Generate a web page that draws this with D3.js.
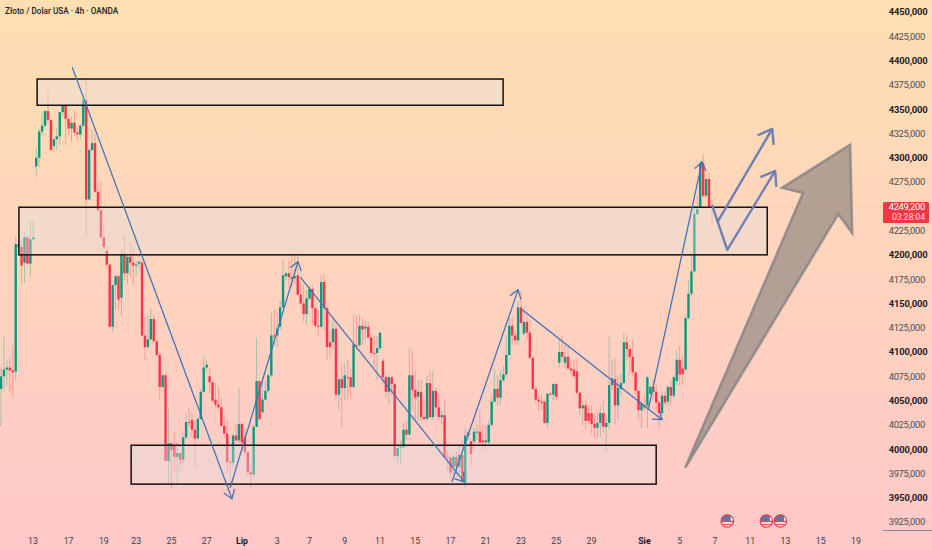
<!DOCTYPE html>
<html><head><meta charset="utf-8">
<script src="https://cdn.jsdelivr.net/npm/d3@7/dist/d3.min.js"></script>
<style>html,body{margin:0;padding:0;background:#ffc8c8;overflow:hidden}svg{display:block;font-family:Roboto,"Liberation Sans",sans-serif}</style>
</head><body><div id="chart"></div>
<script>
const opens=[4062,4075,4082,4084,4081,4080,4211,4208,4192,4218,
4191,4216,4291,4300,4327,4333,4348,4339,4312,4319,
4322,4347,4354,4340,4330,4336,4326,4324,4333,4359,
4257,4308,4315,4265,4246,4218,4204,4190,4126,4169,
4178,4156,4201,4181,4198,4192,4189,4191,4192,4117,
4105,4113,4134,4111,4097,4064,4076,3988,4006,4004,
3992,3996,3989,4012,4028,4030,4020,4011,4031,4059,
4084,4075,4069,4051,4046,4043,4024,4016,3987,3986,
4014,4009,4026,4012,3997,3976,3974,4023,4070,4038,
4051,4060,4076,4117,4117,4126,4146,4178,4181,4177,
4176,4179,4159,4150,4139,4155,4165,4145,4127,4126,
4172,4145,4110,4110,4124,4056,4072,4063,4074,4074,
4064,4107,4107,4127,4124,4126,4115,4099,4099,4104,
4091,4074,4059,4074,4067,3993,4001,4002,4020,4015,
4076,4061,4054,4059,4033,4031,4068,4033,4060,4043,
4033,4035,3992,3991,3982,3992,3982,3994,3965,4014,
4008,4008,4017,4018,4009,4007,4007,4025,4049,4062,
4053,4071,4077,4097,4127,4117,4112,4146,4119,4131,
4120,4094,4062,4051,4049,4049,4027,4057,4056,4067,
4089,4100,4089,4095,4083,4082,4080,4058,4042,4045,
4037,4037,4026,4022,4027,4037,4023,4027,4066,4072,
4045,4062,4068,4110,4103,4095,4079,4060,4040,4045,
4045,4057,4064,4059,4048,4037,4055,4049,4064,4055,
4070,4092,4083,4082,4135,4160,4183,4242,4249,4294,
4261,4278,4250];
const closes=[4075,4082,4084,4081,4079,4211,4208,4189,4218,4191,
4216,4218,4300,4327,4333,4348,4339,4308,4319,4322,
4347,4354,4340,4330,4336,4326,4324,4333,4359,4257,
4308,4315,4265,4246,4218,4208,4190,4126,4169,4178,
4154,4201,4181,4198,4192,4189,4190,4193,4117,4105,
4113,4134,4111,4097,4064,4076,3988,4006,3999,3992,
3996,3989,4012,4028,4027,4020,4011,4031,4059,4084,
4087,4069,4050,4046,4043,4024,4016,3987,3986,4014,
4009,4026,4007,3997,3976,3974,4023,4070,4031,4051,
4060,4076,4117,4116,4124,4146,4179,4181,4177,4175,
4178,4159,4150,4139,4155,4165,4145,4127,4126,4172,
4145,4105,4105,4124,4056,4072,4063,4076,4073,4064,
4108,4106,4127,4123,4126,4115,4099,4098,4104,4120,
4074,4059,4074,4067,3993,4001,4002,4020,4015,4076,
4061,4053,4059,4033,4031,4068,4033,4060,4043,4033,
4035,3992,3991,3976,3992,3982,3994,3966,4014,4017,
3995,4018,4018,4007,4007,4009,4025,4049,4062,4053,
4071,4077,4097,4127,4117,4112,4146,4130,4131,4120,
4094,4062,4051,4049,4048,4027,4057,4056,4067,4054,
4100,4095,4095,4083,4081,4075,4058,4042,4045,4029,
4029,4026,4022,4027,4037,4023,4027,4066,4073,4045,
4063,4068,4110,4103,4095,4079,4060,4040,4047,4043,
4074,4064,4059,4048,4037,4055,4048,4064,4055,4074,
4092,4077,4077,4135,4160,4183,4242,4247,4294,4261,
4278,4249,4249];
const highs=[4084,4117,4092,4096,4107,4218,4215,4215,4223,4219,
4236,4236,4310,4330,4346,4349,4368,4339,4320,4331,
4347,4355,4356,4341,4342,4349,4331,4335,4366,4381,
4310,4329,4325,4275,4275,4233,4208,4190,4169,4180,
4179,4205,4220,4202,4214,4208,4194,4194,4194,4136,
4138,4145,4138,4114,4100,4078,4077,4042,4007,4017,
4007,3996,4017,4037,4042,4037,4030,4033,4061,4095,
4092,4084,4069,4068,4064,4053,4033,4030,3989,4016,
4026,4063,4027,4020,3997,3978,4025,4115,4071,4074,
4071,4078,4140,4143,4140,4153,4195,4182,4194,4200,
4202,4203,4172,4169,4164,4169,4169,4148,4143,4179,
4180,4148,4122,4133,4128,4073,4086,4089,4092,4083,
4138,4138,4138,4135,4131,4131,4119,4117,4117,4120,
4094,4076,4076,4075,4068,4002,4009,4027,4030,4104,
4102,4081,4071,4071,4050,4076,4081,4081,4063,4056,
4040,4050,3999,3994,3994,3997,4004,4009,4022,4020,
4009,4022,4025,4040,4025,4025,4030,4056,4083,4076,
4081,4086,4117,4135,4135,4122,4153,4163,4145,4138,
4133,4095,4066,4056,4056,4050,4058,4059,4068,4068,
4114,4117,4107,4107,4092,4092,4092,4059,4050,4050,
4045,4045,4035,4038,4045,4050,4035,4116,4092,4094,
4076,4078,4120,4117,4107,4112,4081,4061,4050,4056,
4076,4066,4071,4066,4050,4059,4059,4066,4071,4076,
4102,4107,4097,4138,4174,4200,4251,4261,4297,4304,
4282,4285,4256];
const lows=[4024,4061,4066,4058,4053,4071,4205,4171,4171,4189,
4177,4215,4280,4291,4323,4331,4335,4306,4306,4308,
4313,4342,4313,4323,4316,4323,4317,4319,4331,4218,
4256,4306,4264,4244,4217,4205,4187,4124,4121,4143,
4143,4137,4174,4169,4177,4169,4177,4186,4116,4092,
4103,4112,4110,4095,4050,4063,3987,3965,3960,3978,
3963,3978,3984,4009,4022,4012,3981,4009,4030,4058,
4081,4058,4048,4043,4040,4023,4012,3975,3961,3981,
4007,4006,3999,3994,3973,3960,3972,4022,4030,4037,
4050,4059,4074,4107,4105,4122,4145,4174,4166,4166,
4169,4158,4148,4131,4128,4153,4128,4124,4117,4124,
4122,4092,4094,4102,4050,4040,4022,4050,4050,4052,
4063,4102,4105,4107,4112,4114,4095,4083,4071,4102,
4066,4052,4045,4056,3989,3984,3984,4001,4009,4014,
4040,4030,4030,4029,4030,4030,4032,4030,4035,4030,
4025,3991,3978,3968,3973,3970,3973,3965,3960,4009,
3982,3999,4009,4004,3999,3999,4005,4023,4048,4045,
4045,4069,4075,4096,4107,4107,4107,4128,4117,4112,
4092,4061,4047,4038,4040,4026,4022,4055,4050,4050,
4084,4090,4083,4081,4076,4073,4056,4035,4025,4020,
4025,4016,4012,4011,4012,4017,3997,4020,4061,4025,
4030,4056,4067,4092,4076,4076,4056,4030,4022,4040,
4022,4056,4050,4038,4020,4035,4045,4045,4045,4052,
4066,4066,4066,4081,4133,4158,4182,4241,4248,4259,
4259,4248,4229];

const priceTicks=[4450,4425,4400,4375,4350,4325,4300,4275,4225,4200,4175,4150,4125,4100,4075,4050,4025,4000,3975,3950,3925];
const boldPrices=[4450,4400,4350,4300,4200,4150,4100,4050,4000,3950];
const timeLabels=["13","17","19","23","25","27","Lip","3","7","9","11","15","17","21","23","25","29","Sie","5","7","11","13","15","19"];
const timeIndexes=[10.9,23,35,46,58,70,82,94,105,117,129,141,153,165,177,189,201,219,231,243,255,267,279,291];
const boldTimes=["Lip","Sie"];

// zones: [start candle, end candle, top price, bottom price]
const zones=[[12.3,170.9,4381,4354],[6.1,260.8,4249,4200],[44.3,223,4004,3964]];
// thin drawn arrows: [candle, price] pairs
const thinArrows=[
 [[24.2,4393.5],[78.6,3949]],
 [[78,3960],[101.1,4193]],
 [[101.8,4177.4],[157.6,3966.5]],
 [[153.5,3966.5],[176,4164]],
 [[177.4,4143.5],[225,4030.3]],
 [[220.3,4040.6],[238.6,4295.7]]
];
const wideArrows=[
 [[242,4251.5],[247.2,4205.2],[263.5,4286.5]],
 [[243.7,4233],[262.5,4329.7]]
];
const bigArrow=[[232.9,3980.9],[273,4263.8],[265.9,4269],[289,4313.2],[289.7,4222.7],[285,4242.2]];
const eventCandles=[247.2,260.5,265.3];
const lastPrice=4249.2;
const lastPriceLabel="4249,200";
const countdown="03:28:04";
const title="Złoto / Dolar USA · 4h · OANDA";

const W=932,H=550;
const x=d3.scaleLinear().domain([0,242]).range([1,712]);
const y=d3.scaleLinear().domain([3925,4450]).range([522,12]);
const svg=d3.select("#chart").append("svg").attr("width",W).attr("height",H);
const defs=svg.append("defs");
const g=defs.append("linearGradient").attr("id","bg").attr("x1",0).attr("x2",0).attr("y1",0).attr("y2",1);
g.append("stop").attr("offset","0%").attr("stop-color","#fedfb2");
g.append("stop").attr("offset","100%").attr("stop-color","#ffc8c9");
svg.append("rect").attr("width",W).attr("height",H).attr("fill","url(#bg)");

const UP="#089981",DOWN="#f7344a";
const idx=d3.range(opens.length);
const col=i=>closes[i]>=opens[i]?UP:DOWN;

svg.append("g").selectAll("line").data(idx).join("line")
 .attr("x1",x).attr("x2",x).attr("y1",i=>y(highs[i])).attr("y2",i=>y(lows[i]))
 .attr("stroke",col).attr("stroke-opacity",.34).attr("stroke-width",1);
svg.append("g").selectAll("rect").data(idx).join("rect")
 .attr("x",i=>x(i)-1.2).attr("width",2.4)
 .attr("y",i=>y(Math.max(opens[i],closes[i])))
 .attr("height",i=>Math.max(1,Math.abs(y(opens[i])-y(closes[i]))))
 .attr("fill",col);

svg.append("g").selectAll("rect").data(zones).join("rect")
 .attr("x",d=>x(d[0])).attr("width",d=>x(d[1])-x(d[0]))
 .attr("y",d=>y(d[2])).attr("height",d=>y(d[3])-y(d[2]))
 .attr("fill","#e0e0e0").attr("fill-opacity",.36)
 .attr("stroke","#101114").attr("stroke-width",1.5);

// arrow helper: head barbs around the last segment, built in pixels from scaled points
function head(p,q,len,ang){
 const a=Math.atan2(q[1]-p[1],q[0]-p[0]);
 return [[q[0]-len*Math.cos(a-ang),q[1]-len*Math.sin(a-ang)],q,[q[0]-len*Math.cos(a+ang),q[1]-len*Math.sin(a+ang)]];
}
const px=d=>[x(d[0]),y(d[1])];
const ln=d3.line();
const gt=svg.append("g").attr("fill","none").attr("stroke","#3d72b8").attr("stroke-width",1.25);
thinArrows.forEach(a=>{
 const pts=a.map(px);
 gt.append("path").attr("d",ln(pts));
 gt.append("path").attr("d",ln(head(pts[pts.length-2],pts[pts.length-1],10,.62)));
});
const gw=svg.append("g").attr("fill","none").attr("stroke","#6f80b8").attr("stroke-width",2.4).attr("stroke-linejoin","round");
wideArrows.forEach(a=>{
 const pts=a.map(px);
 gw.append("path").attr("d",ln(pts));
 gw.append("path").attr("d",ln(head(pts[pts.length-2],pts[pts.length-1],16,.62)));
});
svg.append("path").attr("d",ln(bigArrow.map(px))+"Z")
 .attr("fill","#827f7a").attr("fill-opacity",.62)
 .attr("stroke","#8b8587").attr("stroke-opacity",.85).attr("stroke-width",2.6).attr("stroke-linejoin","miter");

// last-price guide
svg.append("line").attr("x1",x(242)).attr("x2",883).attr("y1",y(lastPrice)).attr("y2",y(lastPrice))
 .attr("stroke",DOWN).attr("stroke-opacity",.3).attr("stroke-dasharray","1 3");

// price axis
const ax=svg.append("g");
ax.selectAll("text").data(priceTicks).join("text")
 .attr("x",d=>boldPrices.includes(d)?927.5:925).attr("y",d=>y(d)+3.4).attr("text-anchor","end")
 .attr("font-size",9.4).attr("letter-spacing",d=>boldPrices.includes(d)?-0.15:-0.3)
 .attr("font-weight",d=>boldPrices.includes(d)?700:400)
 .attr("fill",d=>boldPrices.includes(d)?"#1a1c22":"#4a4c52")
 .text(d=>d3.format("d")(d)+",000");
svg.append("line").attr("x1",883).attr("x2",W).attr("y1",530.5).attr("y2",530.5).attr("stroke","#8a8a90").attr("stroke-width",1);

// last price tag
svg.append("rect").attr("x",883).attr("y",y(lastPrice)-5).attr("width",46).attr("height",21).attr("rx",1.5).attr("fill","#f23645");
svg.append("text").attr("x",925).attr("y",y(lastPrice)+3.2).attr("text-anchor","end").attr("font-size",9.4).attr("letter-spacing",-0.3).attr("fill","#fff").text(lastPriceLabel);
svg.append("text").attr("x",925).attr("y",y(lastPrice)+12.5).attr("text-anchor","end").attr("font-size",8.8).attr("letter-spacing",-0.1).attr("fill","#ffd6da").text(countdown);

// time axis
svg.append("g").selectAll("text").data(timeLabels).join("text")
 .attr("x",(d,i)=>x(timeIndexes[i])).attr("y",544).attr("text-anchor","middle")
 .attr("font-size",8.8)
 .attr("font-weight",d=>boldTimes.includes(d)?700:400)
 .attr("fill",d=>boldTimes.includes(d)?"#1a1c22":"#3c3e44")
 .text(d=>d);

// event flags
const flagY=521,r=6.2;
defs.append("clipPath").attr("id","fc").append("circle").attr("r",r);
const fl=svg.append("g").selectAll("g").data(eventCandles).join("g").attr("transform",d=>`translate(${x(d)},${flagY})`);
fl.append("circle").attr("r",r).attr("fill","#fff");
const fi=fl.append("g").attr("clip-path","url(#fc)");
fi.append("rect").attr("x",-7).attr("y",-7).attr("width",10.5).attr("height",7).attr("fill","#5a74b4");
fi.append("rect").attr("x",-6).attr("y",-.3).attr("width",12).attr("height",1.6).attr("fill","#f04a58");
fi.append("rect").attr("x",-4).attr("y",2.8).attr("width",8).attr("height",1.4).attr("fill","#f04a58");
fl.append("circle").attr("r",r).attr("fill","none").attr("stroke","#f23645").attr("stroke-width",1.2);

svg.append("text").attr("x",5).attr("y",14).attr("font-size",8.2).attr("font-weight",500).attr("fill","#1a1c26").text(title);
</script></body></html>
